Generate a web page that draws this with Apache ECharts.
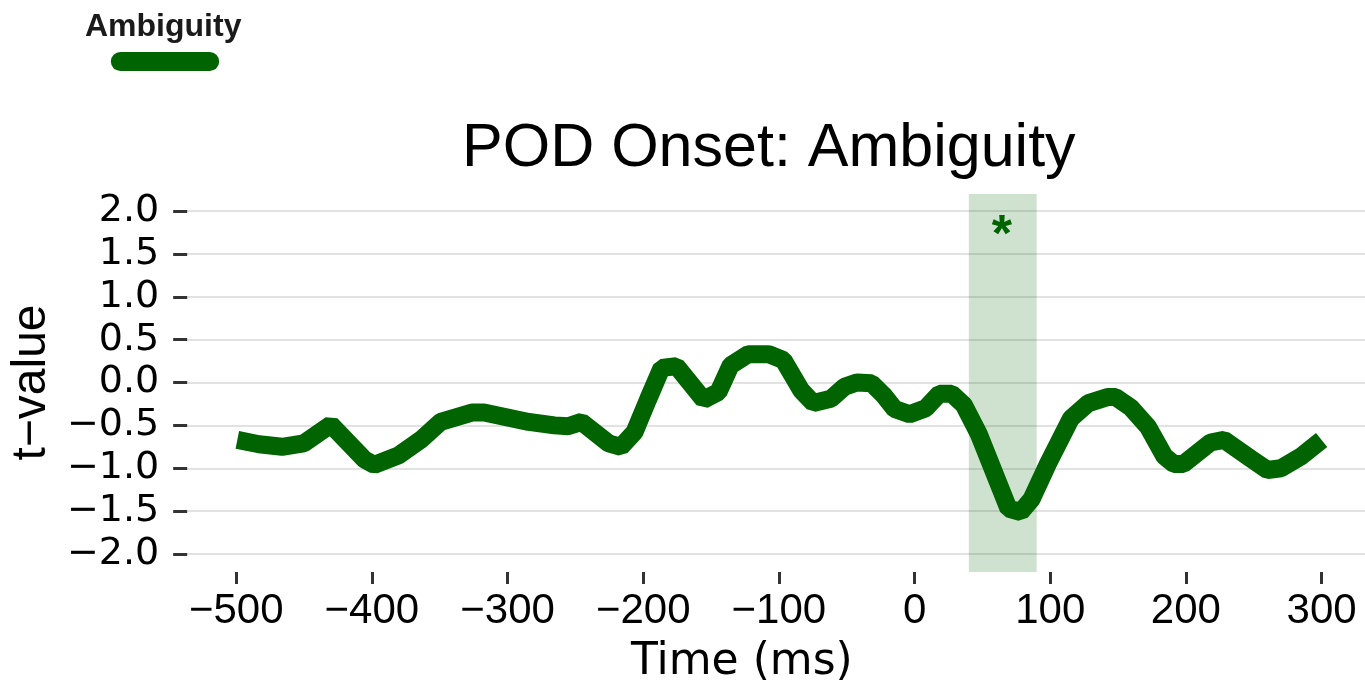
<!DOCTYPE html>
<html>
<head>
<meta charset="utf-8">
<style>
  html, body { margin: 0; padding: 0; background: #ffffff; }
  #chart { width: 1365px; height: 698px; }
</style>
<script src="https://cdn.jsdelivr.net/npm/echarts@6/dist/echarts.min.js"></script>
</head>
<body>
<div id="chart"></div>
<script>
// Time points (ms relative to POD onset) and the t-value trace for Ambiguity
const timeMs = [
  -500, -484, -467, -451, -431, -406, -399, -381, -364, -350,
  -327, -318, -285, -266, -256, -246, -226, -217, -207, -197,
  -187, -176, -156, -145, -136, -123, -108, -97, -84, -75,
  -62, -52, -43, -32, -23, -15, -4, 8, 18, 27,
  36, 47, 69, 78, 86, 98, 115, 128, 142, 148,
  159, 172, 184, 191, 198, 218, 228, 248, 260, 270,
  285, 300
];
const tValue = [
  -0.67, -0.72, -0.75, -0.71, -0.49, -0.90, -0.96, -0.85, -0.66, -0.46,
  -0.35, -0.35, -0.46, -0.50, -0.51, -0.46, -0.71, -0.75, -0.58, -0.20,
  0.17, 0.19, -0.20, -0.11, 0.20, 0.33, 0.33, 0.26, -0.09, -0.24,
  -0.19, -0.05, 0.00, -0.01, -0.15, -0.31, -0.37, -0.30, -0.13, -0.13,
  -0.26, -0.60, -1.47, -1.51, -1.36, -0.95, -0.42, -0.24, -0.17, -0.17,
  -0.29, -0.52, -0.86, -0.95, -0.95, -0.70, -0.67, -0.89, -1.02, -1.00,
  -0.86, -0.67
];

// Significant window (ms) and the position of its star
const sigWindow = [40, 90];
const sigStar = [64, 1.83];

// Tick values
const xTicks = [-500, -400, -300, -200, -100, 0, 100, 200, 300];
const yTickStep = 0.5;

const FONT = "'Liberation Sans', Arial, Helvetica, sans-serif";
const WIDE = "'DejaVu Sans', sans-serif";
const GREEN = '#006400';
const minus = v => (v < 0 ? '\u2212' : '') + Math.abs(v);

const chart = echarts.init(document.getElementById('chart'), null, { renderer: 'canvas' });

chart.setOption({
  animation: false,
  backgroundColor: '#ffffff',
  title: [
    {
      text: 'POD Onset: Ambiguity', left: 462, top: 119, padding: 0,
      textStyle: { fontFamily: FONT, fontSize: 61, fontWeight: 'normal', color: '#000' }
    },
    {
      text: 'Time (ms)', left: 631, top: 641, padding: 0,
      textStyle: { fontFamily: WIDE, fontSize: 44, fontWeight: 'normal', color: '#000' }
    },
    {
      text: 'Ambiguity', left: 85, top: 11, padding: 0,
      textStyle: { fontFamily: FONT, fontSize: 32, fontWeight: 'bold', color: '#1a1a1a' }
    }
  ],
  legend: {
    data: ['Ambiguity'],
    left: 108, top: 52, padding: 0,
    itemWidth: 114, itemHeight: 19,
    icon: 'path://M10,0 H104 A10,10 0 0 1 104,20 H10 A10,10 0 0 1 10,0 Z',
    formatter: () => '',
    selectedMode: false
  },
  grid: [
    { left: 186, right: 0, top: 211, height: 343 },
    { left: 186, right: 0, top: 194, height: 378 }
  ],
  xAxis: [
    { type: 'value', gridIndex: 0, min: -537, max: 332, show: false },
    {
      type: 'value', gridIndex: 1, min: -537, max: 332,
      axisLine: { show: false, onZero: false },
      splitLine: { show: false },
      axisTick: {
        show: true, length: 12, customValues: xTicks,
        lineStyle: { color: '#333', width: 3 }
      },
      axisLabel: {
        customValues: xTicks, margin: 18,
        fontFamily: FONT, fontSize: 42, color: '#000',
        formatter: minus
      }
    }
  ],
  yAxis: [
    {
      type: 'value', gridIndex: 0, min: -2, max: 2, interval: yTickStep,
      name: 't\u2212value', nameLocation: 'middle', nameGap: 129, nameRotate: 90,
      nameTextStyle: { fontFamily: FONT, fontSize: 48, color: '#000' },
      axisLine: { show: false, onZero: false },
      axisTick: { show: true, length: 14, lineStyle: { color: '#333', width: 3 } },
      axisLabel: {
        margin: 28, fontFamily: WIDE, fontSize: 38, color: '#000',
        formatter: v => (v < 0 ? '\u2212' : '') + Math.abs(v).toFixed(1)
      },
      splitLine: { show: true, lineStyle: { color: '#d8d8d8', width: 1.5 } }
    },
    { type: 'value', gridIndex: 1, min: -2.2, max: 2.2, show: false }
  ],
  series: [
    {
      name: 'window', type: 'line', xAxisIndex: 1, yAxisIndex: 1,
      data: [], silent: true,
      markArea: {
        silent: true,
        itemStyle: { color: 'rgba(0,100,0,0.19)' },
        data: [[{ xAxis: sigWindow[0] }, { xAxis: sigWindow[1] }]]
      }
    },
    {
      name: 'Ambiguity', type: 'line', xAxisIndex: 0, yAxisIndex: 0,
      data: timeMs.map((t, i) => [t, tValue[i]]),
      showSymbol: false, symbol: 'none',
      color: GREEN,
      lineStyle: { color: GREEN, width: 18 },
      z: 5,
      markPoint: {
        silent: true,
        symbol: 'circle', symbolSize: 1,
        itemStyle: { color: 'rgba(0,0,0,0)' },
        label: {
          show: true, position: 'top', distance: -38, formatter: '*',
          fontFamily: FONT, fontSize: 52, fontWeight: 'bold', color: GREEN,
          textBorderWidth: 0
        },
        data: [{ coord: sigStar }]
      }
    }
  ]
});
</script>
</body>
</html>
